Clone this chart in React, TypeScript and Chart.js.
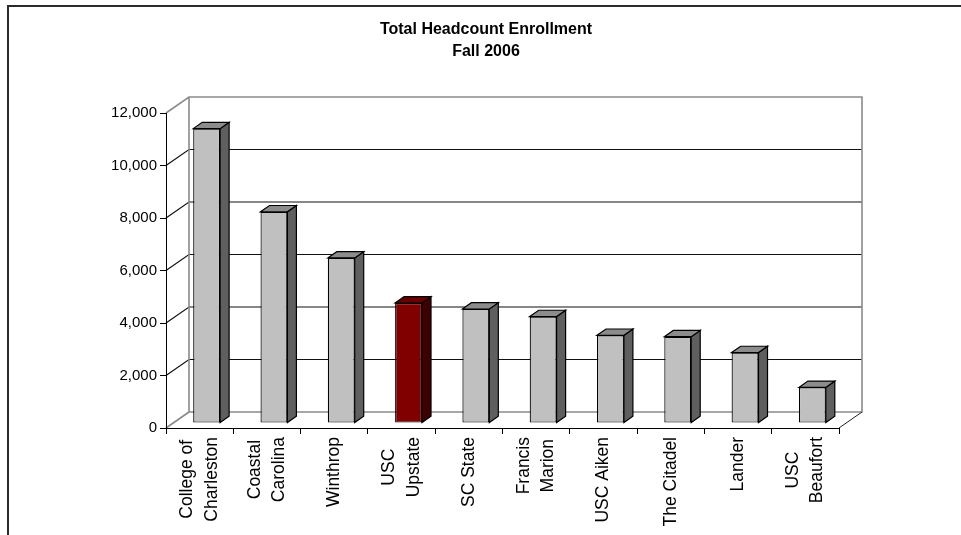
import React, { useEffect, useRef } from 'react';
import { Chart, registerables } from 'chart.js';

Chart.register(...registerables);

// ---------- data ----------
const categories: string[][] = [
  ['College of', 'Charleston'],
  ['Coastal', 'Carolina'],
  ['Winthrop'],
  ['USC', 'Upstate'],
  ['SC State'],
  ['Francis', 'Marion'],
  ['USC Aiken'],
  ['The Citadel'],
  ['Lander'],
  ['USC', 'Beaufort'],
];
const enrollment: number[] = [11218, 8049, 6292, 4576, 4346, 4060, 3345, 3292, 2688, 1360];
const yMin = 0;
const yMax = 12000;
const yStep = 2000;
const titleLines: string[] = ['Total Headcount Enrollment', 'Fall 2006'];
const highlightedIndex = 3; // USC Upstate

// ---------- styles ----------
const FONT = "'Liberation Sans', Arial, Helvetica, sans-serif";
const WALL_DX = 23;
const WALL_DY = -16;
const BAR_OFF_DX = 7;
const BAR_OFF_DY = -4.9;
const BAR_DX = 9;
const BAR_DY = -6.3;
const X_LABEL_SIZE = 17.5;
const X_LABEL_LH = 24.5;

const frontColor = (i: number) => (i === highlightedIndex ? '#800000' : '#C0C0C0');
const sideColor = (i: number) => (i === highlightedIndex ? '#3E0000' : '#5F5F5F');
const topColor = (i: number) => (i === highlightedIndex ? '#680000' : '#8C8C8C');

const threeD = {
  id: 'threeD',
  beforeDraw(chart: any) {
    const ctx = chart.ctx as CanvasRenderingContext2D;
    const { left, right } = chart.chartArea;
    const ys = chart.scales.y;
    ctx.save();
    // outer frame
    ctx.strokeStyle = '#2b2b2b';
    ctx.lineWidth = 2;
    ctx.beginPath();
    ctx.moveTo(8, chart.height);
    ctx.lineTo(8, 6);
    ctx.lineTo(chart.width, 6);
    ctx.stroke();

    // gridlines (side wall + back wall)
    ctx.strokeStyle = '#111';
    ctx.lineWidth = 1.2;
    ys.ticks.forEach((t: any) => {
      if (t.value <= yMin || t.value >= yMax) return;
      const py = ys.getPixelForValue(t.value);
      ctx.beginPath();
      ctx.moveTo(left, py);
      ctx.lineTo(left + WALL_DX, py + WALL_DY);
      ctx.lineTo(right + WALL_DX, py + WALL_DY);
      ctx.stroke();
    });

    // wall edges
    const yT = ys.getPixelForValue(yMax);
    const yB = ys.getPixelForValue(yMin);
    ctx.strokeStyle = '#8a8a8a';
    ctx.lineWidth = 1.6;
    ctx.beginPath();
    ctx.moveTo(left, yT);
    ctx.lineTo(left + WALL_DX, yT + WALL_DY);
    ctx.lineTo(right + WALL_DX, yT + WALL_DY);
    ctx.lineTo(right + WALL_DX, yB + WALL_DY);
    ctx.lineTo(left + WALL_DX, yB + WALL_DY);
    ctx.lineTo(left + WALL_DX, yT + WALL_DY);
    ctx.stroke();
    ctx.beginPath();
    ctx.moveTo(left, yB);
    ctx.lineTo(left + WALL_DX, yB + WALL_DY);
    ctx.stroke();
    ctx.strokeStyle = '#222';
    ctx.lineWidth = 1;
    ctx.beginPath();
    ctx.moveTo(right, yB);
    ctx.lineTo(right + WALL_DX, yB + WALL_DY);
    ctx.stroke();
    ctx.restore();
  },
  beforeDatasetsDraw(chart: any) {
    chart.ctx.save();
    chart.ctx.translate(BAR_OFF_DX, BAR_OFF_DY);
  },
  afterDatasetsDraw(chart: any) {
    const ctx = chart.ctx as CanvasRenderingContext2D;
    const meta = chart.getDatasetMeta(0);
    ctx.lineWidth = 1.2;
    ctx.strokeStyle = '#000';
    ctx.lineJoin = 'miter';
    meta.data.forEach((bar: any, i: number) => {
      const { x, y, base, width } = bar.getProps(['x', 'y', 'base', 'width'], true);
      const l = x - width / 2;
      const r = x + width / 2;
      // side face
      ctx.fillStyle = sideColor(i);
      ctx.beginPath();
      ctx.moveTo(r, y);
      ctx.lineTo(r + BAR_DX, y + BAR_DY);
      ctx.lineTo(r + BAR_DX, base + BAR_DY);
      ctx.lineTo(r, base);
      ctx.closePath();
      ctx.fill();
      ctx.stroke();
      // top face
      ctx.fillStyle = topColor(i);
      ctx.beginPath();
      ctx.moveTo(l, y);
      ctx.lineTo(l + BAR_DX, y + BAR_DY);
      ctx.lineTo(r + BAR_DX, y + BAR_DY);
      ctx.lineTo(r, y);
      ctx.closePath();
      ctx.fill();
      ctx.stroke();
    });
    ctx.restore();
  },
  afterDraw(chart: any) {
    // category labels, rotated, lines centred on each other (Excel style)
    const ctx = chart.ctx as CanvasRenderingContext2D;
    const xs = chart.scales.x;
    const topY = chart.chartArea.bottom + 9;
    ctx.save();
    ctx.font = `${X_LABEL_SIZE}px ${FONT}`;
    ctx.fillStyle = '#000';
    ctx.textAlign = 'center';
    ctx.textBaseline = 'middle';
    (chart.data.labels as string[][]).forEach((lines, i) => {
      const px = xs.getPixelForValue(i);
      const maxW = Math.max(...lines.map((s) => ctx.measureText(s).width));
      ctx.save();
      ctx.translate(px, topY);
      ctx.rotate(-Math.PI / 2);
      lines.forEach((s, j) => {
        ctx.fillText(s, -maxW / 2, (j - (lines.length - 1) / 2) * X_LABEL_LH);
      });
      ctx.restore();
    });
    ctx.restore();
  },
};

export default function App() {
  const ref = useRef<HTMLCanvasElement | null>(null);
  useEffect(() => {
    if (!ref.current) return;
    Chart.defaults.font.family = FONT;
    Chart.defaults.color = '#000';
    const chart = new Chart(ref.current, {
      type: 'bar',
      data: {
        labels: categories as any,
        datasets: [
          {
            data: enrollment,
            backgroundColor: enrollment.map((_, i) => frontColor(i)),
            borderColor: '#000',
            borderWidth: 1.2,
            borderSkipped: false,
            categoryPercentage: 1,
            barPercentage: 0.4,
            clip: false as any,
          },
        ],
      },
      options: {
        animation: false,
        responsive: false,
        devicePixelRatio: 1,
        layout: { padding: { left: 11, right: 0, top: 0, bottom: 0 } },
        plugins: {
          legend: { display: false },
          tooltip: { enabled: false },
          title: {
            display: true,
            text: titleLines,
            color: '#000',
            font: { family: FONT, size: 16, weight: 'bold', lineHeight: 22 / 16 },
            padding: { top: 19, bottom: 50 },
          },
        },
        scales: {
          x: {
            type: 'category',
            grid: { display: true, drawOnChartArea: false, drawTicks: true, tickLength: 6, color: '#000', offset: true },
            border: { display: true, color: '#000', width: 1 },
            ticks: { display: false },
            afterFit: (s: any) => {
              s.height = 107;
            },
          },
          y: {
            type: 'linear',
            min: yMin,
            max: yMax,
            grid: { display: true, drawOnChartArea: false, drawTicks: true, tickLength: 6, color: '#000' },
            border: { display: true, color: '#000', width: 1 },
            ticks: {
              stepSize: yStep,
              padding: 3,
              color: '#000',
              font: { family: FONT, size: 15 },
              callback: (v: any) => Number(v).toLocaleString('en-US'),
            },
            afterFit: (s: any) => {
              s.width = 155;
            },
          },
          yr: {
            type: 'linear',
            position: 'right',
            display: true,
            grid: { display: false },
            border: { display: false },
            ticks: { display: false },
            afterFit: (s: any) => {
              s.width = 122;
            },
          },
        },
      },
      plugins: [threeD],
    });
    return () => chart.destroy();
  }, []);

  return (
    <div style={{ position: 'absolute', left: 0, top: 0, width: 961, height: 535, background: '#fff' }}>
      <canvas ref={ref} width={961} height={535} style={{ display: 'block' }} />
    </div>
  );
}
